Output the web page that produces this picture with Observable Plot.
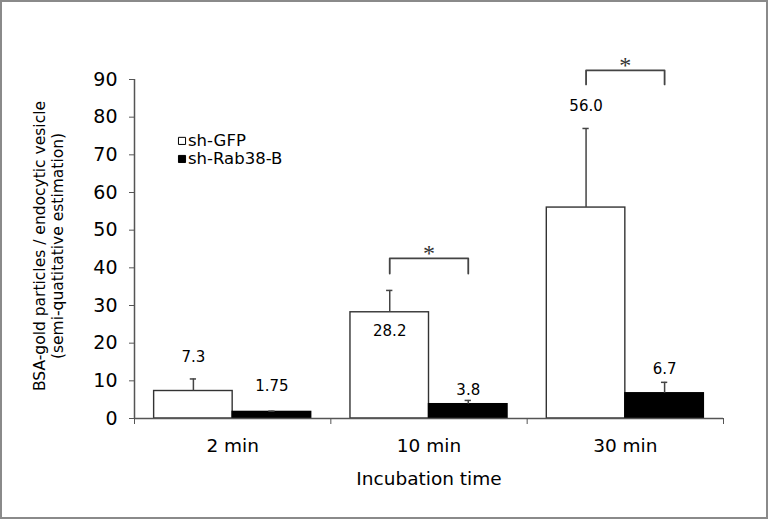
<!DOCTYPE html>
<html><head><meta charset="utf-8">
<script src="https://cdn.jsdelivr.net/npm/d3@7"></script>
<script src="https://cdn.jsdelivr.net/npm/@observablehq/plot@0.6"></script>
<style>
body{margin:0;background:#fff;}
#wrap{position:relative;width:768px;height:519px;overflow:hidden;}
#border{position:absolute;left:0;top:0;width:768px;height:519px;box-sizing:border-box;border:2px solid #8a8a8a;pointer-events:none;}
</style></head><body>
<div id="wrap"><div id="border"></div></div>
<script>
// ---- data ----
const times = ["2 min", "10 min", "30 min"];
const series = ["sh-GFP", "sh-Rab38-B"];
const gfpValues = [7.3, 28.2, 56.0];
const gfpErrors = [3.2, 5.8, 21.0];
const rabValues = [1.75, 3.8, 6.7];
const rabErrors = [0.2, 1.0, 2.9];
const gfpLabels = ["7.3", "28.2", "56.0"];
const rabLabels = ["1.75", "3.8", "6.7"];
const gfpLabelAt = [16.3, 23.2, 82.8];
const rabLabelAt = [8.5, 7.4, 13.0];
const sigGroups = ["10 min", "30 min"];
const sigTop = [42.5, 92.4];
const sigLeg = [38.5, 88.7];
const yTicks = [0, 10, 20, 30, 40, 50, 60, 70, 80, 90];
const yTitle = "BSA-gold particles / endocytic vesicle\n(semi-quatitative estimation)";
const xTitle = "Incubation time";

// ---- layout ----
const groupPad = 0.1, barW = 0.4, capHalf = 0.016;
const vals = [gfpValues, rabValues], errs = [gfpErrors, rabErrors];
const labs = [gfpLabels, rabLabels], labAt = [gfpLabelAt, rabLabelAt];
const rows = times.flatMap((t, g) => series.map((s, si) => {
  const x1 = g + groupPad + si * barW;
  return {time: t, series: s, si, x1, x2: x1 + barW, xc: x1 + barW / 2,
    value: vals[si][g], top: vals[si][g] + errs[si][g],
    label: labs[si][g], labelAt: labAt[si][g]};
}));
const center = (g, si) => g + groupPad + si * barW + barW / 2;
const bracketPts = sigGroups.flatMap((t, k) => {
  const g = times.indexOf(t);
  return [
    {k, x: center(g, 0), y: sigLeg[k]},
    {k, x: center(g, 0), y: sigTop[k]},
    {k, x: center(g, 1), y: sigTop[k]},
    {k, x: center(g, 1), y: sigLeg[k]}
  ];
});
const stars = sigGroups.map((t, k) => ({x: times.indexOf(t) + 0.5, y: sigTop[k]}));
const legendX = 0.242, legendY0 = 73.7, legendStep = 4.8;
const legend = series.map((s, i) => ({s, i, y: legendY0 - i * legendStep}));

const axisColor = "#555";
const chart = Plot.plot({
  width: 768, height: 519,
  marginLeft: 134, marginRight: 45, marginTop: 79, marginBottom: 101,
  style: {fontFamily: "'DejaVu Sans', Verdana, sans-serif", fontSize: "18px", background: "white", color: "#000"},
  x: {domain: [0, 3]},
  y: {domain: [0, 90]},
  marks: [
    Plot.rectY(rows, {x1: "x1", x2: "x2", y1: 0, y2: "value",
      fill: d => d.si ? "#000" : "#fff", stroke: d => d.si ? "#000" : "#333", strokeWidth: 1.4}),
    Plot.ruleX(rows, {x: "xc", y1: "value", y2: "top", stroke: "#444", strokeWidth: 1.5}),
    Plot.ruleY(rows, {y: "top", x1: d => d.xc - capHalf, x2: d => d.xc + capHalf, stroke: "#444", strokeWidth: 1.5}),
    Plot.text(rows, {x: "xc", y: "labelAt", text: "label", fontSize: 15}),
    Plot.line(bracketPts, {x: "x", y: "y", z: "k", stroke: "#444", strokeWidth: 1.8, curve: "linear"}),
    Plot.text(stars, {x: "x", y: "y", text: () => "*", fontFamily: "'Liberation Serif', serif", fontSize: 24, dy: -5, fill: "#333"}),
    Plot.dot(legend, {x: legendX, y: "y", symbol: "square", r: 4, fill: d => d.i ? "#000" : "#fff", stroke: "#000", strokeWidth: 1}),
    Plot.text(legend, {x: legendX, y: "y", text: "s", textAnchor: "start", dx: 6, fontSize: 16.5}),
    Plot.ruleX([0], {y1: 0, y2: 90, stroke: axisColor, strokeWidth: 1.5}),
    Plot.ruleY([0], {stroke: axisColor, strokeWidth: 1.5}),
    Plot.axisY({ticks: yTicks, tickSize: 5, tickPadding: 12, label: null, fontSize: 19, stroke: axisColor}),
    Plot.axisX({ticks: [0, 1, 2, 3], tickSize: 6, tickFormat: () => "", label: null, stroke: axisColor}),
    Plot.axisX({ticks: [0.5, 1.5, 2.5], tickSize: 0, tickPadding: 20, tickFormat: d => times[Math.floor(d)], label: null, fontSize: 18.5}),
    Plot.text([yTitle], {frameAnchor: "left", textAnchor: "middle", rotate: -90, dx: -86, dy: -3, fontSize: 15.5, lineHeight: 1.16}),
    Plot.text([xTitle], {frameAnchor: "bottom", dy: 66, fontSize: 18.5})
  ]
});
document.getElementById("wrap").prepend(chart);
</script>
</body></html>
